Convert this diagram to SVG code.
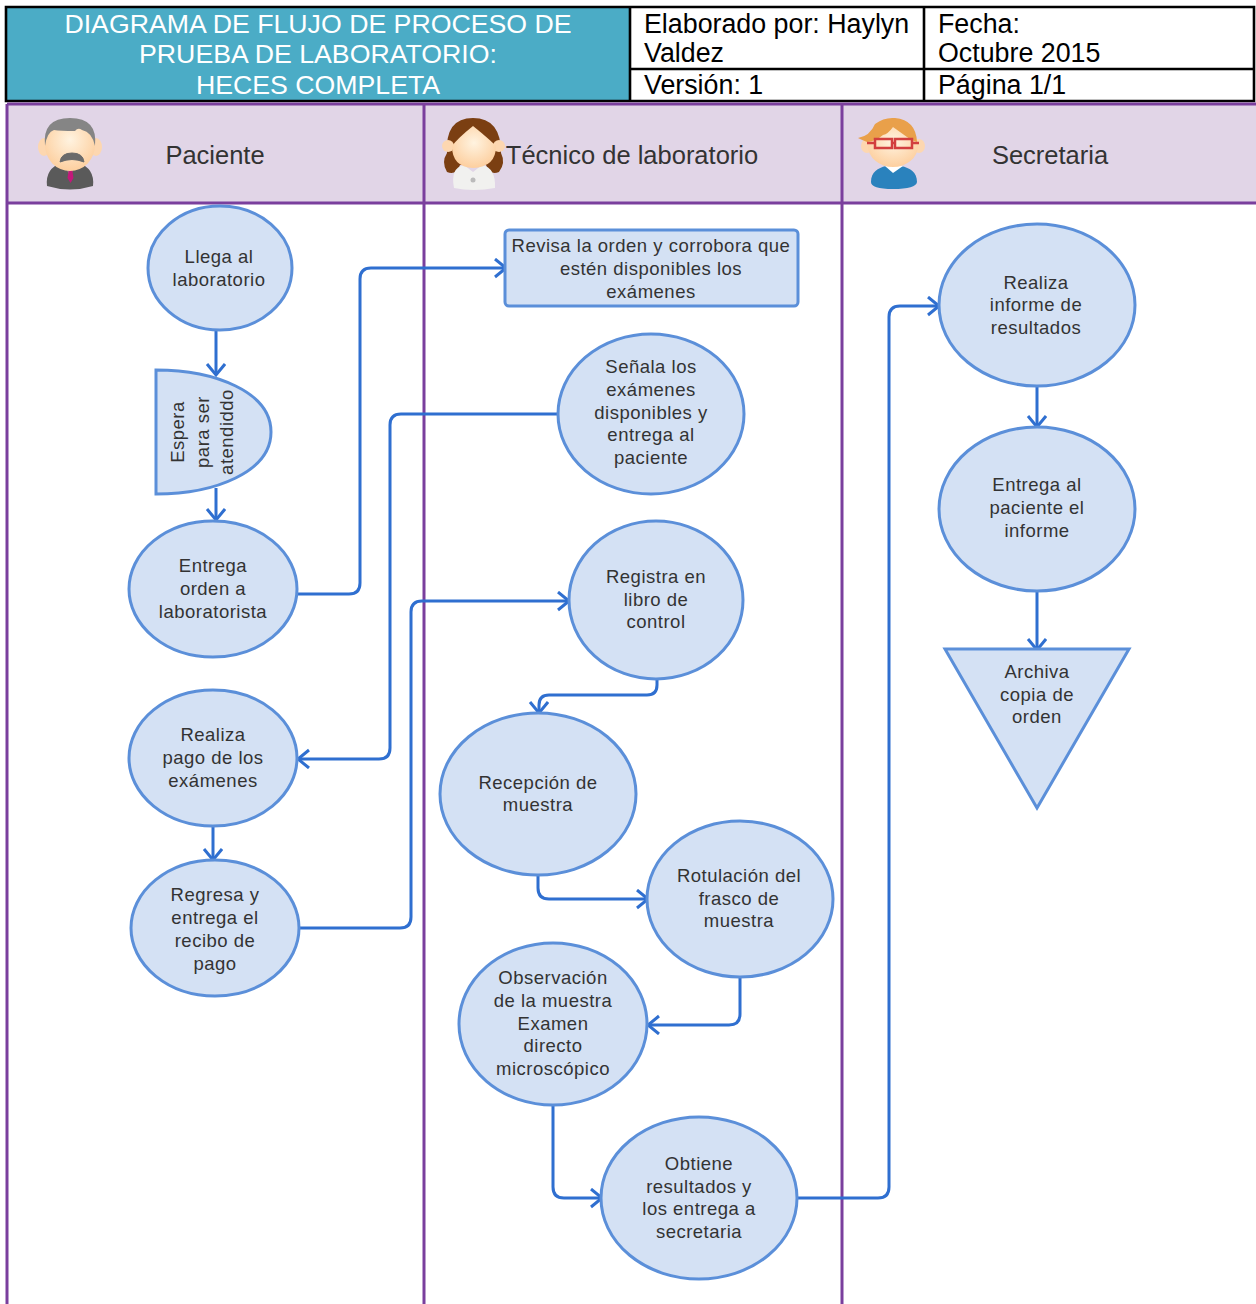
<svg xmlns="http://www.w3.org/2000/svg" width="1256" height="1304" viewBox="0 0 1256 1304">
<style>
text{font-family:"Liberation Sans",Arial,sans-serif}
.hd{font-size:26.8px;fill:#000}
.ti{font-size:26.7px;fill:#fff;text-anchor:middle}
.sw{font-size:25.5px;fill:#333;text-anchor:middle}
.n{font-size:18.5px;letter-spacing:.5px;fill:#333;text-anchor:middle}
.s{fill:#d4e1f4;stroke:#5b8fd9;stroke-width:3}
.c{fill:none;stroke:#2f6fd0;stroke-width:3}
.l{stroke:#7a3f9d;stroke-width:3;fill:none}
.k{stroke:#000;stroke-width:2.600;fill:none}
.ear{fill:#fdd7b0}
</style>
<defs>
<marker id="a" markerUnits="userSpaceOnUse" markerWidth="20" markerHeight="22" refX="15" refY="10" orient="auto"><path d="M4 1 L15 10 L4 19" fill="none" stroke="#2f6fd0" stroke-width="3"/></marker>
<radialGradient id="skin" cx="50%" cy="40%" r="60%"><stop offset="0" stop-color="#fff3e0"/><stop offset="1" stop-color="#fdcf9f"/></radialGradient>
</defs>
<rect width="1256" height="1304" fill="#fff"/>
<g id="header">
<rect x="6" y="7" width="624" height="94" fill="#4bacc6"/>
<text class="ti" x="318" y="33">DIAGRAMA DE FLUJO DE PROCESO DE</text>
<text class="ti" x="318" y="63">PRUEBA DE LABORATORIO:</text>
<text class="ti" x="318" y="94">HECES COMPLETA</text>
<path class="k" d="M6 7H1254V101H6Z M630 7V101 M924 7V101 M630 69H1254"/>
<text class="hd" x="644" y="33">Elaborado por: Haylyn</text>
<text class="hd" x="644" y="62">Valdez</text>
<text class="hd" x="644" y="94">Versión: 1</text>
<text class="hd" x="938" y="33">Fecha:</text>
<text class="hd" x="938" y="62">Octubre 2015</text>
<text class="hd" x="938" y="94">Página 1/1</text>
</g>
<g id="swimlanes">
<rect x="7" y="104" width="1249" height="99" fill="#e1d5e7"/>
<path class="l" d="M7 104H1256 M7 203H1256 M7 104V1304 M424 104V1304 M842 104V1304"/>
<text class="sw" x="215" y="164">Paciente</text>
<text class="sw" x="632" y="164">Técnico de laboratorio</text>
<text class="sw" x="1050" y="164">Secretaria</text>
</g>
<g id="icon-paciente">
<path d="M47 186 Q45 168 62 163 L70 160 L78 163 Q95 168 93 186 Q70 193 47 186Z" fill="#5a5a5a"/>
<path d="M64 163 L70 177 L76 163Z" fill="#8d8d8d"/><path d="M69 168h3l1.500 10-3 5-3-5Z" fill="#c2187a"/>
<ellipse class="ear" cx="44" cy="147" rx="6" ry="9"/><ellipse class="ear" cx="96" cy="147" rx="6" ry="9"/>
<ellipse cx="70" cy="145" rx="25" ry="26" fill="url(#skin)"/>
<path d="M45 146 Q42 118 70 118 Q98 118 95 146 Q92 132 82 130 Q78 127 75 131 Q60 131 54 130 Q47 132 45 146Z" fill="#858585"/>
<path d="M60 162 Q61 153 72 153 Q83 153 84 162 Q72 157 60 162Z" fill="#6a6a6a" stroke="#6a6a6a"/>
</g>
<g id="icon-tecnico">
<path d="M447 172 Q441 162 447 153 Q445 118 473 118 Q501 118 501 153 Q506 163 499 172 Q490 176 486 165 L460 165 Q456 176 447 172Z" fill="#7b3f12"/>
<path d="M454 188 Q450 168 464 165 L473 172 L482 165 Q496 168 495 188 Q473 192 454 188Z" fill="#f1f1ef"/>
<circle cx="473" cy="180" r="2.500" fill="#bbb"/>
<ellipse class="ear" cx="448" cy="146" rx="6" ry="6"/><ellipse class="ear" cx="499" cy="146" rx="6" ry="6"/>
<path d="M473 126 Q458 138 452 146 Q452 167 473 168 Q496 167 496 146 Q488 138 473 126Z" fill="url(#skin)"/>
</g>
<g id="icon-secretaria">
<path d="M871 182 C871 172 878 168 886 166 L893 171 L901 166 C910 168 917 172 917 182 Q916 189 893 189 Q871 189 871 182Z" fill="#2a82bd"/>
<path d="M885 166 L893 173 L903 166 L899 165H888Z" fill="#fff"/>
<ellipse class="ear" cx="867" cy="146" rx="6" ry="7"/><ellipse class="ear" cx="919" cy="146" rx="6" ry="7"/>
<ellipse cx="893" cy="146" rx="25" ry="21" fill="url(#skin)"/>
<path d="M858 138 Q870 136 875 124 Q884 117 895 118 Q916 120 917 142 Q912 141 907 137 Q900 132 893 127 Q888 134 883 135 Q876 141 867 142 Q862 140 858 138Z" fill="#e9a04a"/>
<g fill="none" stroke="#d23f3f" stroke-width="2.500"><rect x="875" y="139" width="17" height="9"/><rect x="895" y="139" width="17" height="9"/><path d="M867 143H875 M892 143H895 M912 143H919"/></g>
</g>
<g id="connectors">
<path class="c" marker-end="url(#a)" d="M216 330V375"/>
<path class="c" marker-end="url(#a)" d="M216 488V520"/>
<path class="c" marker-end="url(#a)" d="M297 594H349Q360 594 360 583V279Q360 268 371 268H506"/>
<path class="c" marker-end="url(#a)" d="M558 414H401Q390 414 390 425V748Q390 759 379 759H298"/>
<path class="c" marker-end="url(#a)" d="M213 827V860"/>
<path class="c" marker-end="url(#a)" d="M299 928H400Q411 928 411 917V612Q411 601 422 601H569"/>
<path class="c" marker-end="url(#a)" d="M657 679V685Q657 695 647 695H549Q539 695 539 705V713"/>
<path class="c" marker-end="url(#a)" d="M538 875V888Q538 899 549 899H648"/>
<path class="c" marker-end="url(#a)" d="M740 977V1014Q740 1025 729 1025H648"/>
<path class="c" marker-end="url(#a)" d="M553 1105V1187Q553 1198 564 1198H602"/>
<path class="c" marker-end="url(#a)" d="M797 1198H878Q889 1198 889 1187V317Q889 306 900 306H939"/>
<path class="c" marker-end="url(#a)" d="M1037 386V427"/>
<path class="c" marker-end="url(#a)" d="M1037 591V650"/>
</g>
<g id="n1"><ellipse class="s" cx="220" cy="268" rx="72" ry="62"/><text class="n" x="219" y="263">Llega al</text><text class="n" x="219" y="286">laboratorio</text></g>
<g id="n2"><path class="s" d="M156 370V494C215 494 271 472 271 432C271 392 215 370 156 370Z"/>
<g transform="rotate(-90 203 432)"><text class="n" x="203" y="413">Espera</text><text class="n" x="203" y="438">para ser</text><text class="n" x="203" y="462">atendiddo</text></g></g>
<g id="n3"><ellipse class="s" cx="213" cy="589" rx="84" ry="68"/><text class="n" x="213" y="572">Entrega</text><text class="n" x="213" y="595">orden a</text><text class="n" x="213" y="618">laboratorista</text></g>
<g id="n4"><ellipse class="s" cx="213" cy="758" rx="84" ry="68"/><text class="n" x="213" y="741">Realiza</text><text class="n" x="213" y="764">pago de los</text><text class="n" x="213" y="787">exámenes</text></g>
<g id="n5"><ellipse class="s" cx="215" cy="928" rx="84" ry="68"/><text class="n" x="215" y="901">Regresa y</text><text class="n" x="215" y="924">entrega el</text><text class="n" x="215" y="947">recibo de</text><text class="n" x="215" y="970">pago</text></g>
<g id="n6"><rect class="s" x="505" y="230" width="293" height="76" rx="4"/><text class="n" x="651" y="252">Revisa la orden y corrobora que</text><text class="n" x="651" y="275">estén disponibles los</text><text class="n" x="651" y="298">exámenes</text></g>
<g id="n7"><ellipse class="s" cx="651" cy="414" rx="93" ry="80"/><text class="n" x="651" y="373">Señala los</text><text class="n" x="651" y="396">exámenes</text><text class="n" x="651" y="419">disponibles y</text><text class="n" x="651" y="441">entrega al</text><text class="n" x="651" y="464">paciente</text></g>
<g id="n8"><ellipse class="s" cx="656" cy="600" rx="87" ry="79"/><text class="n" x="656" y="583">Registra en</text><text class="n" x="656" y="606">libro de</text><text class="n" x="656" y="628">control</text></g>
<g id="n9"><ellipse class="s" cx="538" cy="794" rx="98" ry="81"/><text class="n" x="538" y="789">Recepción de</text><text class="n" x="538" y="811">muestra</text></g>
<g id="n10"><ellipse class="s" cx="740" cy="899" rx="93" ry="78"/><text class="n" x="739" y="882">Rotulación del</text><text class="n" x="739" y="905">frasco de</text><text class="n" x="739" y="927">muestra</text></g>
<g id="n11"><ellipse class="s" cx="553" cy="1024" rx="94" ry="81"/><text class="n" x="553" y="984">Observación</text><text class="n" x="553" y="1007">de la muestra</text><text class="n" x="553" y="1030">Examen</text><text class="n" x="553" y="1052">directo</text><text class="n" x="553" y="1075">microscópico</text></g>
<g id="n12"><ellipse class="s" cx="699" cy="1198" rx="98" ry="81"/><text class="n" x="699" y="1170">Obtiene</text><text class="n" x="699" y="1193">resultados y</text><text class="n" x="699" y="1215">los entrega a</text><text class="n" x="699" y="1238">secretaria</text></g>
<g id="n13"><ellipse class="s" cx="1037" cy="305" rx="98" ry="81"/><text class="n" x="1036" y="289">Realiza</text><text class="n" x="1036" y="311">informe de</text><text class="n" x="1036" y="334">resultados</text></g>
<g id="n14"><ellipse class="s" cx="1037" cy="509" rx="98" ry="82"/><text class="n" x="1037" y="491">Entrega al</text><text class="n" x="1037" y="514">paciente el</text><text class="n" x="1037" y="537">informe</text></g>
<g id="n15"><path class="s" d="M945 649H1129L1037 808Z"/><text class="n" x="1037" y="678">Archiva</text><text class="n" x="1037" y="701">copia de</text><text class="n" x="1037" y="723">orden</text></g>
</svg>
